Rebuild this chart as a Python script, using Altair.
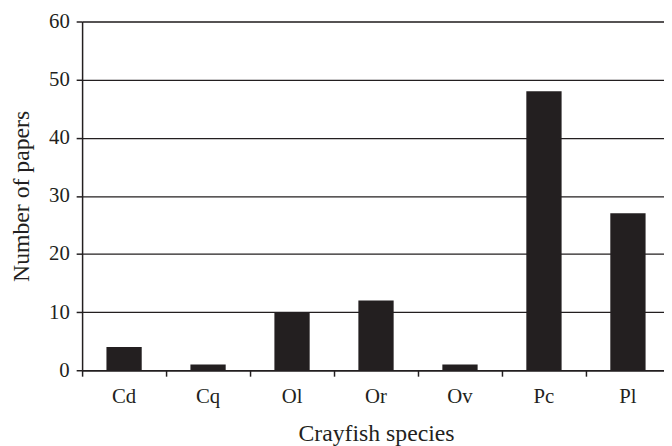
import altair as alt
import pandas as pd

species = ["Cd", "Cq", "Ol", "Or", "Ov", "Pc", "Pl"]
papers = [4, 1, 10, 12, 1, 48, 27]

df = pd.DataFrame({"species": species, "papers": papers})

ink = "#231f20"
font = "Liberation Serif"

chart = alt.Chart(df).mark_bar(color=ink, width={"band": 0.42}).encode(
    x=alt.X(
        "species:N",
        sort=species,
        scale=alt.Scale(range=[0, 595], paddingInner=0, paddingOuter=0),
        axis=alt.Axis(
            title="Crayfish species",
            labelAngle=0,
            bandPosition=0,
            tickSize=6,
            tickColor=ink,
            domainColor=ink,
            domainWidth=1.5,
            tickWidth=1.5,
            labelPadding=10,
            labelFontSize=21,
            labelFont=font,
            labelColor=ink,
            titleFontSize=24,
            titleFont=font,
            titleFontWeight="normal",
            titleColor=ink,
            titlePadding=15,
            titleX=297.5,
            grid=False,
        ),
    ),
    y=alt.Y(
        "papers:Q",
        scale=alt.Scale(domain=[0, 60], nice=False),
        axis=alt.Axis(
            title="Number of papers",
            values=[0, 10, 20, 30, 40, 50, 60],
            tickSize=6,
            tickColor=ink,
            tickWidth=1.5,
            domainColor=ink,
            domainWidth=1.5,
            grid=True,
            gridColor=ink,
            gridWidth=1.3,
            gridOpacity=1,
            labelPadding=7,
            labelFontSize=21,
            labelFont=font,
            labelColor=ink,
            titleFontSize=24,
            titleFont=font,
            titleFontWeight="normal",
            titleColor=ink,
            titlePadding=15,
        ),
    ),
).properties(
    width=589,
    height=353,
    autosize=alt.AutoSizeParams(type="none"),
    padding={"left": 75, "top": 11, "right": 0, "bottom": 74},
).configure_view(stroke=None).configure(font=font)

chart.save("out.html", embed_options={"renderer": "svg", "actions": False})
